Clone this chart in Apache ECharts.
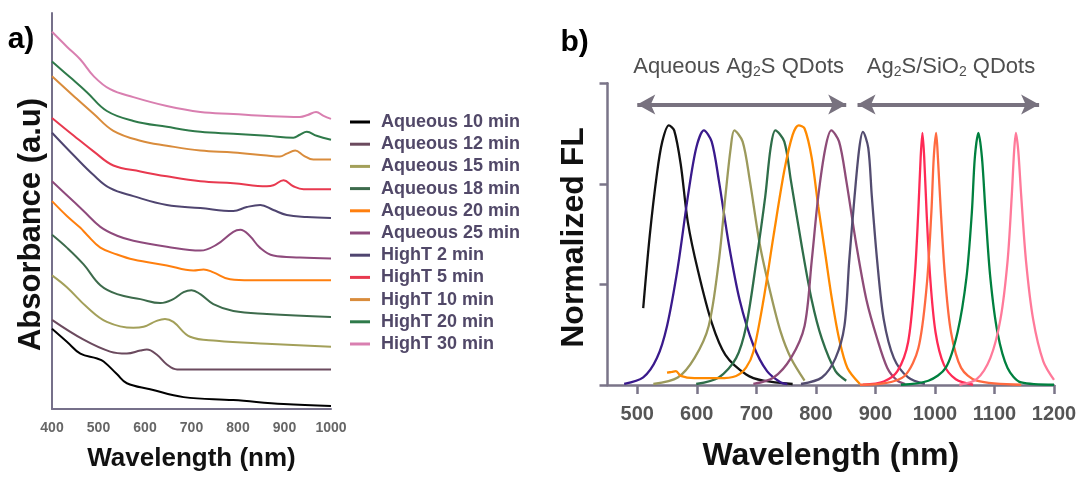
<!DOCTYPE html>
<html>
<head>
<meta charset="utf-8">
<script src="https://cdn.jsdelivr.net/npm/echarts@6/dist/echarts.min.js"></script>
<style>html,body{margin:0;padding:0;background:#fff}#c{width:1080px;height:477px}</style>
</head>
<body>
<div id="c"></div>
<script>
// ---------- Panel a: absorbance (offset, arbitrary units) ----------
const absNames = ['Aqueous 10 min','Aqueous 12 min','Aqueous 15 min','Aqueous 18 min','Aqueous 20 min','Aqueous 25 min','HighT 2 min','HighT 5 min','HighT 10 min','HighT 20 min','HighT 30 min'];
const absColors = ['#000000','#6b4a5e','#a3a05a','#3d6b4c','#ff7f0e','#8e4a7c','#4f4570','#e8394f','#d98c3c','#2f7a4a','#d97fb0'];
const aq10 = [[400,0.81],[432,0.68],[461,0.56],[497,0.51],[511,0.48],[540,0.35],[561,0.26],[611,0.20],[683,0.12],[790,0.09],[898,0.05],[1000,0.03]];
const aq12 = [[400,0.90],[468,0.70],[525,0.58],[561,0.56],[590,0.59],[604,0.60],[625,0.55],[647,0.45],[669,0.40],[1000,0.40]];
const aq15 = [[400,1.35],[432,1.23],[475,1.03],[518,0.88],[575,0.82],[597,0.83],[625,0.89],[643,0.91],[661,0.88],[697,0.73],[754,0.69],[862,0.66],[1000,0.63]];
const aq18 = [[400,1.76],[432,1.63],[468,1.46],[504,1.25],[540,1.16],[590,1.11],[633,1.07],[661,1.11],[683,1.18],[700,1.20],[719,1.16],[747,1.06],[790,0.99],[862,0.96],[1000,0.93]];
const aq20 = [[400,2.10],[432,1.95],[461,1.83],[475,1.76],[504,1.63],[540,1.56],[575,1.51],[647,1.45],[704,1.40],[726,1.41],[747,1.38],[783,1.31],[826,1.30],[1000,1.30]];
const aq25 = [[400,2.30],[432,2.16],[468,2.00],[504,1.84],[540,1.75],[575,1.70],[647,1.64],[719,1.60],[754,1.66],[790,1.79],[805,1.81],[825,1.75],[847,1.63],[876,1.55],[933,1.53],[1000,1.52]];
const ht2 = [[400,2.79],[447,2.56],[490,2.36],[525,2.23],[575,2.15],[647,2.06],[719,2.03],[790,2.00],[819,2.04],[848,2.06],[876,2.01],[905,1.96],[948,1.94],[1000,1.93]];
const ht5 = [[400,2.94],[447,2.76],[490,2.60],[532,2.46],[590,2.40],[647,2.35],[719,2.30],[790,2.28],[862,2.25],[876,2.26],[898,2.31],[919,2.25],[941,2.22],[1000,2.22]];
const ht10 = [[400,3.36],[447,3.16],[490,2.98],[532,2.81],[590,2.71],[647,2.66],[719,2.61],[790,2.59],[862,2.56],[890,2.55],[905,2.58],[923,2.61],[941,2.56],[962,2.52],[1000,2.52]];
const ht20 = [[400,3.51],[439,3.35],[475,3.20],[518,3.01],[575,2.91],[647,2.85],[719,2.80],[790,2.78],[862,2.76],[919,2.74],[933,2.77],[948,2.80],[969,2.76],[1000,2.72]];
const ht30 = [[400,3.81],[432,3.66],[461,3.53],[490,3.36],[525,3.23],[575,3.15],[647,3.06],[719,3.00],[790,2.98],[862,2.96],[933,2.95],[950,2.97],[968,3.00],[984,2.96],[1000,2.93]];
const absData = [aq10,aq12,aq15,aq18,aq20,aq25,ht2,ht5,ht10,ht20,ht30];
const xTicksA = [400,500,600,700,800,900,1000];

// ---------- Panel b: normalized fluorescence ----------
const flNames = ['FL 553 nm','FL 612 nm','FL 663 nm','FL 732 nm','FL 771 nm','FL 826 nm','FL 879 nm','FL 979 nm','FL 1002 nm','FL 1073 nm','FL 1136 nm'];
const flColors = ['#111111','#3a1a8c','#9c9a5c','#2f6e4a','#ff8a00','#8e4c78','#534c70','#ff2a55','#ff6a40','#00803f','#ff7a9a'];
const fl1 = [[510,0.306],[521,0.595],[533,0.84],[542,0.968],[553,1.033],[562,1.013],[573,0.878],[585,0.647],[602,0.454],[625,0.248],[648,0.12],[683,0.042],[712,0.017],[761,0.004]];
const fl2 = [[478,0.004],[510,0.03],[533,0.107],[550,0.235],[568,0.467],[585,0.75],[599,0.943],[612,1.013],[625,0.968],[637,0.814],[654,0.557],[672,0.338],[695,0.158],[718,0.055],[741,0.01],[752,0.004]];
const fl3 = [[527,0.004],[568,0.03],[596,0.107],[620,0.235],[637,0.493],[648,0.75],[657,0.943],[663,1.013],[677,0.968],[689,0.814],[706,0.557],[724,0.364],[741,0.21],[758,0.107],[781,0.017]];
const fl4 = [[599,0.004],[637,0.03],[666,0.107],[683,0.235],[700,0.493],[715,0.75],[724,0.943],[732,1.013],[747,0.968],[758,0.814],[776,0.557],[793,0.338],[810,0.184],[833,0.055],[851,0.017]];
const fl5 = [[550,0.049],[558,0.052],[565,0.055],[573,0.036],[596,0.027],[637,0.027],[666,0.036],[683,0.07],[695,0.132],[712,0.338],[729,0.595],[747,0.853],[761,0.995],[771,1.033],[781,1.02],[793,0.904],[804,0.711],[816,0.518],[827,0.341],[839,0.184],[853,0.068],[874,0.004]];
const fl6 = [[695,0.004],[729,0.03],[758,0.107],[781,0.235],[793,0.493],[804,0.75],[816,0.943],[826,1.013],[839,0.968],[851,0.814],[868,0.557],[885,0.338],[903,0.184],[920,0.068],[937,0.017],[950,0.004]];
const fl7 = [[775,0.004],[810,0.03],[833,0.107],[848,0.235],[856,0.493],[865,0.75],[873,0.943],[879,1.007],[888,0.943],[894,0.75],[903,0.493],[914,0.261],[931,0.107],[955,0.03],[983,0.004]];
const fl8 = [[879,0.001],[914,0.014],[937,0.055],[955,0.171],[966,0.428],[972,0.686],[976,0.904],[979,1.003],[982,0.904],[986,0.686],[992,0.428],[1001,0.21],[1015,0.081],[1035,0.023],[1064,0.001]];
const fl9 = [[874,0.001],[914,0.006],[949,0.036],[972,0.145],[986,0.39],[994,0.686],[998,0.904],[1002,1.003],[1005,0.904],[1010,0.686],[1017,0.428],[1027,0.21],[1044,0.068],[1070,0.017],[1145,0.001]];
const fl10 = [[943,0.001],[989,0.017],[1018,0.068],[1038,0.21],[1053,0.428],[1062,0.686],[1067,0.904],[1073,1.003],[1079,0.904],[1085,0.686],[1093,0.428],[1105,0.21],[1122,0.068],[1145,0.01],[1200,0.001]];
const fl11 = [[1041,0.001],[1070,0.023],[1093,0.107],[1110,0.261],[1122,0.493],[1129,0.75],[1133,0.93],[1136,1.003],[1140,0.93],[1145,0.75],[1153,0.493],[1165,0.261],[1182,0.094],[1200,0.02]];
const flData = [fl1,fl2,fl3,fl4,fl5,fl6,fl7,fl8,fl9,fl10,fl11];
const xTicksB = [500,600,700,800,900,1000,1100,1200];
const arrowSpans = [[500,851],[870,1175]];
const arrowLevel = 1.116;

const FONT = 'Liberation Sans, Arial, sans-serif';
const axisColA = '#76708a';
const axisColB = '#7a7488';
const plain = v => String(v);

const series = [];
absData.forEach((d, i) => {
  series.push({
    name: absNames[i], type: 'line', xAxisIndex: 0, yAxisIndex: 0,
    data: d, smooth: 0.4, showSymbol: false, symbol: 'none',
    lineStyle: { color: absColors[i], width: 2 }, itemStyle: { color: absColors[i] },
    z: 3 + i
  });
});
flData.forEach((d, i) => {
  const s = {
    name: flNames[i], type: 'line', xAxisIndex: 1, yAxisIndex: 1,
    data: d, smooth: 0.3, showSymbol: false, symbol: 'none',
    lineStyle: { color: flColors[i], width: 2.3 }, itemStyle: { color: flColors[i] },
    z: 3 + i
  };
  if (i === 0) {
    s.markLine = {
      silent: true, symbol: ['arrow', 'arrow'], symbolSize: [15, 18],
      label: { show: false },
      lineStyle: { color: '#78727f', width: 4, type: 'solid' },
      data: arrowSpans.map(sp => [{ coord: [sp[0], arrowLevel] }, { coord: [sp[1], arrowLevel] }])
    };
  }
  series.push(s);
});

const chart = echarts.init(document.getElementById('c'), null, { renderer: 'canvas' });
chart.setOption({
  animation: false,
  backgroundColor: '#ffffff',
  textStyle: { fontFamily: FONT },
  grid: [
    { left: 52, right: 749, top: 13, bottom: 64, containLabel: false },
    { left: 607.5, right: 26, top: 83.3, bottom: 82.7, containLabel: false }
  ],
  xAxis: [
    {
      type: 'value', gridIndex: 0, min: 400, max: 1000, interval: 100,
      axisLine: { show: true, lineStyle: { color: axisColA, width: 2 } },
      axisTick: { show: false }, splitLine: { show: false },
      axisLabel: { color: '#666666', fontWeight: 'bold', fontSize: 14, margin: 12, fontFamily: FONT, formatter: plain },
      name: 'Wavelength (nm)', nameLocation: 'middle', nameGap: 37,
      nameTextStyle: { color: '#111111', fontWeight: 'bold', fontSize: 26, fontFamily: FONT }
    },
    {
      type: 'value', gridIndex: 1, min: 450, max: 1200,
      axisLine: { show: true, lineStyle: { color: axisColB, width: 2.5 } },
      axisTick: { show: true, customValues: xTicksB, length: 9, lineStyle: { color: axisColB, width: 2.5 } },
      splitLine: { show: false },
      axisLabel: { customValues: xTicksB, color: '#555555', fontWeight: 'bold', fontSize: 20, margin: 19, fontFamily: FONT, formatter: plain },
      name: 'Wavelength (nm)', nameLocation: 'middle', nameGap: 55,
      nameTextStyle: { color: '#111111', fontWeight: 'bold', fontSize: 32, fontFamily: FONT }
    }
  ],
  yAxis: [
    {
      type: 'value', gridIndex: 0, min: 0, max: 4,
      axisLine: { show: true, lineStyle: { color: axisColA, width: 2 } },
      axisTick: { show: false }, axisLabel: { show: false }, splitLine: { show: false }
    },
    {
      type: 'value', gridIndex: 1, min: 0, max: 1.2, interval: 0.4,
      axisLine: { show: true, lineStyle: { color: axisColB, width: 2.5 } },
      axisTick: { show: true, length: 8, lineStyle: { color: axisColB, width: 2.5 } },
      axisLabel: { show: false }, splitLine: { show: false }
    }
  ],
  legend: {
    data: absNames, orient: 'vertical', left: 345, top: 107,
    itemWidth: 20, itemHeight: 3, itemGap: 2.2, icon: 'rect',
    textStyle: { color: '#514868', fontWeight: 'bold', fontSize: 18, lineHeight: 20, fontFamily: FONT, padding: [0, 0, 0, 6] },
    selectedMode: false
  },
  graphic: [
    { type: 'text', x: 21, y: 40, style: { text: 'a)', fill: '#000', font: 'bold 30px ' + FONT, align: 'center', verticalAlign: 'middle' } },
    { type: 'text', x: 574.7, y: 43, style: { text: 'b)', fill: '#000', font: 'bold 30px ' + FONT, align: 'center', verticalAlign: 'middle' } },
    { type: 'text', x: 31, y: 224.5, rotation: Math.PI / 2, style: { text: 'Absorbance (a.u)', fill: '#111', font: 'bold 31px ' + FONT, align: 'center', verticalAlign: 'middle' } },
    { type: 'text', x: 574, y: 237.5, rotation: Math.PI / 2, style: { text: 'Normalized FL', fill: '#111', font: 'bold 32px ' + FONT, align: 'center', verticalAlign: 'middle' } },
    { type: 'text', x: 738.6, y: 66.7, style: {
        text: 'Aqueous Ag{s|2}S QDots', fill: '#4f4f4f', font: '22px ' + FONT, align: 'center', verticalAlign: 'middle', lineHeight: 24,
        rich: { s: { fontSize: 14, lineHeight: 14, verticalAlign: 'bottom', fill: '#4f4f4f', fontFamily: FONT } } } },
    { type: 'text', x: 951, y: 66.7, style: {
        text: 'Ag{s|2}S/SiO{s|2} QDots', fill: '#4f4f4f', font: '22px ' + FONT, align: 'center', verticalAlign: 'middle', lineHeight: 24,
        rich: { s: { fontSize: 14, lineHeight: 14, verticalAlign: 'bottom', fill: '#4f4f4f', fontFamily: FONT } } } }
  ],
  series: series
});
</script>
</body>
</html>
